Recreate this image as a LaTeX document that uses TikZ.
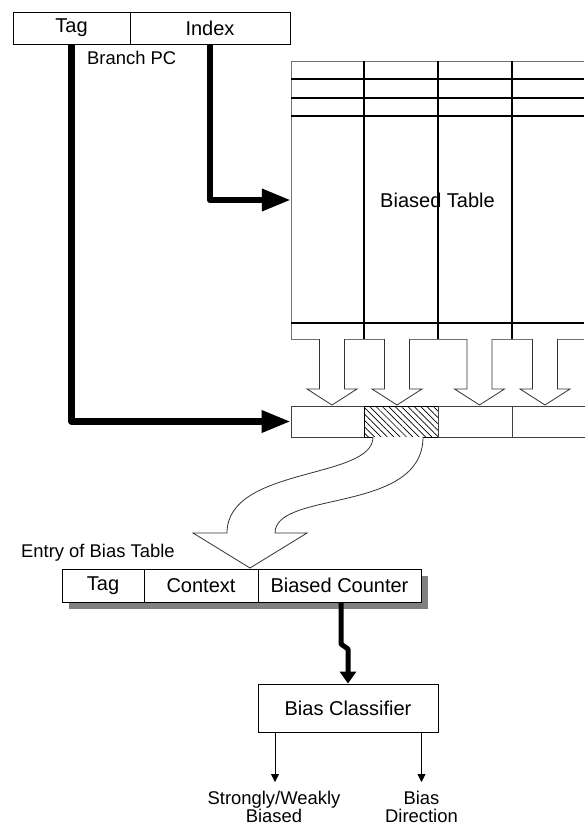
\documentclass[tikz,border=0pt]{standalone}
\usepackage{fontspec}
\setmainfont{Liberation Sans}
\usetikzlibrary{arrows.meta,patterns.meta}
\begin{document}
\begin{tikzpicture}[x=1pt,y=-1pt,
  box/.style={draw, line width=0.8pt, inner sep=0pt, font=\fontsize{20}{22}\selectfont},
  cell/.style={draw=black!75, line width=0.8pt, inner sep=0pt, minimum height=31pt, minimum width=74pt},
  lbl/.style={inner sep=0pt, font=\fontsize{18.4}{18}\selectfont},
  fatline/.style={line width=6.5pt, line join=round, -{Triangle[length=29pt,width=21pt]}},
  medline/.style={line width=5pt, line join=round, -{Triangle[length=12pt,width=16pt]}},
  thinarrow/.style={line width=0.8pt, -{Triangle[length=8pt,width=8pt]}},
  hollow/.style={draw=black!80, fill=white, line width=0.8pt, line join=miter},
  gridthin/.style={draw=black!55, line width=0.8pt},
  gridthick/.style={draw=black, line width=1.3pt}
]
\useasboundingbox (0,0) rectangle (584,826);

% Branch PC
\node[box, minimum width=117pt, minimum height=32pt] (pctag) at (71.5,28) {Tag};
\node[box, minimum width=160pt, minimum height=32pt] (pcindex) at (210,28) {Index};
\node[lbl, anchor=base west] (pclbl) at (87,65) {Branch PC};

% Biased table
\node[inner sep=0pt, minimum width=293pt, minimum height=278pt, font=\fontsize{20}{22}\selectfont] (btable) at (437.5,200) {Biased Table};
\draw[gridthin] (291,61) -- (584,61);
\draw[gridthin] (291,61) -- (291,339);
\draw[gridthin] (291,339) -- (584,339);
\foreach \yy in {79,98,116,323} \draw[gridthick] (291,\yy) -- (584,\yy);
\foreach \xx in {364,438,512} \draw[gridthick] (\xx,61) -- (\xx,339);

% hollow arrows
\foreach \cx in {332,397,479.5,545}
  \draw[hollow] ({\cx-12.5},339) -- ({\cx-12.5},389) -- ({\cx-25},389) -- (\cx,405)
     -- ({\cx+25},389) -- ({\cx+12.5},389) -- ({\cx+12.5},339);

% row of entries
\node[cell, minimum width=73pt] (e1) at (327.5,421.5) {};
\node[cell, draw=black, pattern={Lines[angle=-45,distance=4.5pt,line width=0.7pt]}] (e2) at (401,421.5) {};
\node[cell] (e3) at (475,421.5) {};
\node[cell] (e4) at (549,421.5) {};

% thick connectors from PC
\draw[fatline] (pcindex.south) |- (btable.west);
\draw[fatline] (pctag.south) |- (e1.west);

% curvy wide arrow
\coordinate (c1) at (373,437);
\coordinate (c2) at (423,437);
\draw[hollow, draw=black!80] (c1) .. controls (373,480) and (227,466) .. (227,533)
   -- (193,533) -- (250,568) -- (307,533) -- (275,533)
   .. controls (275,490) and (423,514) .. (c2);

% entry of bias table
\node[lbl, anchor=base west] (entrylbl) at (21,557) {Entry of Bias Table};
\fill[black!50] (69,576) rectangle (428,609);
\node[box, fill=white, minimum width=82pt, minimum height=33pt] (etag) at (103,585.5) {Tag};
\node[box, fill=white, minimum width=114pt, minimum height=33pt] (ectx) at (201,585.5) {Context};
\node[box, fill=white, minimum width=163pt, minimum height=33pt] (ecnt) at (339.5,585.5) {Biased Counter};

% classifier
\node[box, minimum width=180pt, minimum height=48pt] (bc) at (348,708) {Bias Classifier};
\coordinate (j1) at (341,644);
\coordinate (j2) at (348,649);
\draw[medline] (ecnt.south -| j1) -- (j1) -- (j2) -- (bc.north);

% outputs
\node[lbl, align=center, anchor=north] (o1) at (274,791) {Strongly/Weakly\\Biased};
\node[lbl, align=center, anchor=north] (o2) at (421.5,791) {Bias\\Direction};
\draw[thinarrow, shorten >=9pt] (bc.south -| 275,0) -- (o1.north -| 275,0);
\draw[thinarrow, shorten >=9pt] (bc.south -| o2.north) -- (o2.north);
\end{tikzpicture}
\end{document}
